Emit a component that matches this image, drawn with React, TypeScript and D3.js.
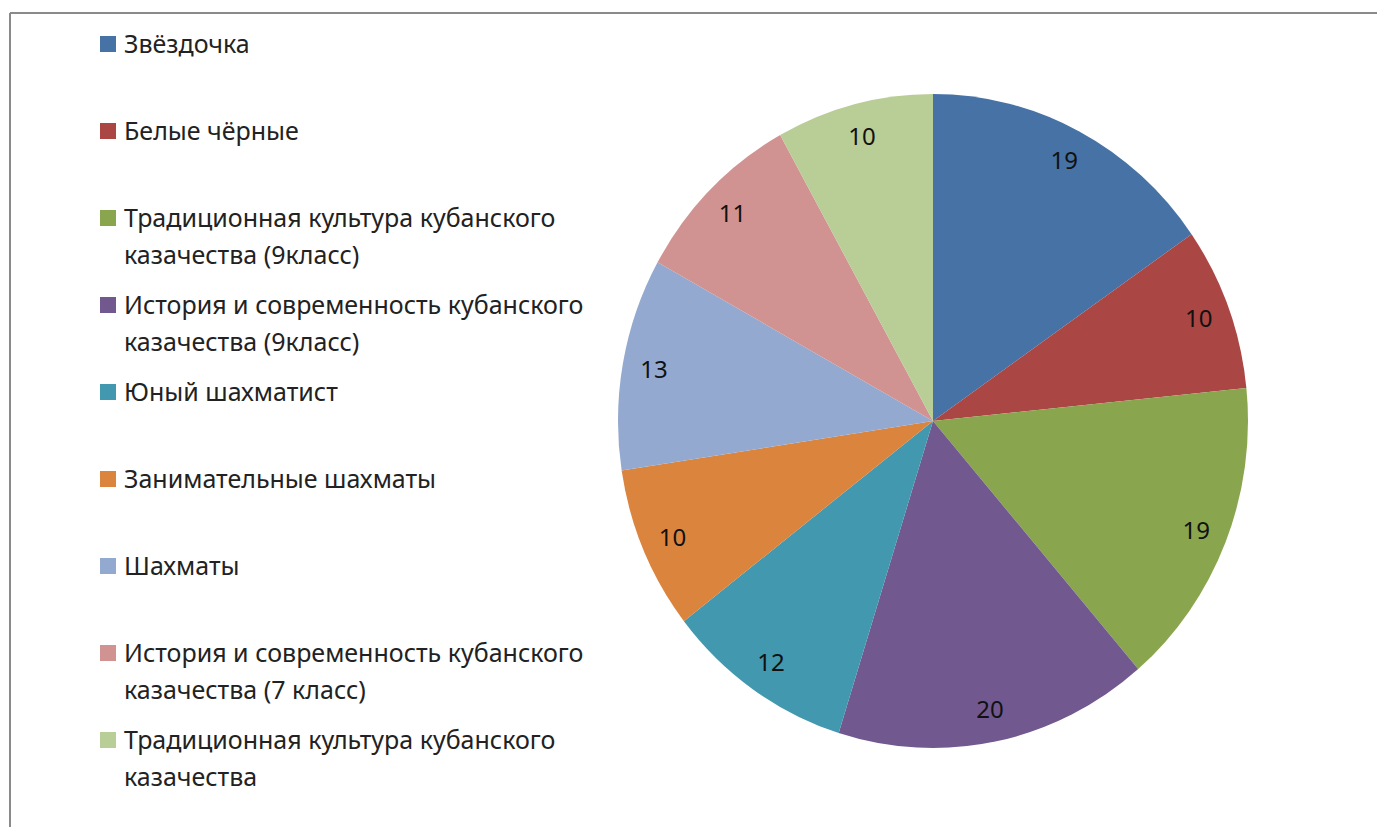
import React, { useEffect, useRef } from 'react';
import * as d3 from 'd3';

// Programmes (legend order = slice order, clockwise from 12 o'clock)
const categories: string[][] = [
  ['Звёздочка'],
  ['Белые чёрные'],
  ['Традиционная культура кубанского', 'казачества (9класс)'],
  ['История и современность кубанского', 'казачества (9класс)'],
  ['Юный шахматист'],
  ['Занимательные шахматы'],
  ['Шахматы'],
  ['История и современность кубанского', 'казачества (7 класс)'],
  ['Традиционная культура кубанского', 'казачества'],
];
const values: number[] = [19, 10, 19, 20, 12, 10, 13, 11, 10];
const colors: string[] = [
  '#4672A6', '#AA4644', '#89A54E', '#71588F', '#4198AF',
  '#DB843D', '#93A9CF', '#D19392', '#B9CD96',
];

const W = 1377;
const H = 827;

const App: React.FC = () => {
  const svgRef = useRef<SVGSVGElement>(null);

  useEffect(() => {
    if (!svgRef.current) return;
    const svg = d3.select(svgRef.current);
    svg.selectAll('*').remove();

    const font = '"Noto Sans", "Open Sans", sans-serif';

    // frame (only top and left edges visible)
    svg.append('line').attr('x1', 10).attr('x2', W).attr('y1', 13).attr('y2', 13)
      .attr('stroke', '#8a8a8a').attr('stroke-width', 2);
    svg.append('line').attr('x1', 10).attr('x2', 10).attr('y1', 13).attr('y2', H)
      .attr('stroke', '#8a8a8a').attr('stroke-width', 2);

    // pie (slightly stretched vertically, as in the source)
    const cx = 933;
    const cy = 421;
    const r = 315;
    const sy = 327 / 315;

    const pie = d3.pie<number>().sort(null).value(d => d);
    const arcs = pie(values);
    const arc = d3.arc<d3.PieArcDatum<number>>().innerRadius(0).outerRadius(r);
    const labelArc = d3.arc<d3.PieArcDatum<number>>().innerRadius(r * 0.9).outerRadius(r * 0.9);

    const g = svg.append('g').attr('transform', `translate(${cx},${cy}) scale(1,${sy})`);
    g.selectAll('path')
      .data(arcs)
      .enter()
      .append('path')
      .attr('d', arc)
      .attr('fill', (_, i) => colors[i]);

    const lg = svg.append('g').attr('transform', `translate(${cx},${cy})`);
    lg.selectAll('text')
      .data(arcs)
      .enter()
      .append('text')
      .attr('x', d => labelArc.centroid(d)[0])
      .attr('y', d => labelArc.centroid(d)[1] * sy)
      .attr('dy', '0.36em')
      .attr('text-anchor', 'middle')
      .attr('font-family', font)
      .attr('font-size', 24)
      .attr('fill', '#111')
      .text(d => d.data);

    // legend
    const legendTop = 44;
    const step = 87;
    const lineH = 37;
    const leg = svg.append('g');
    categories.forEach((lines, i) => {
      const y = legendTop + i * step;
      leg.append('rect')
        .attr('x', 100).attr('y', y - 8).attr('width', 16).attr('height', 16)
        .attr('fill', colors[i]);
      lines.forEach((t, j) => {
        leg.append('text')
          .attr('x', 124)
          .attr('y', y + j * lineH)
          .attr('dy', '0.36em')
          .attr('font-family', font)
          .attr('font-size', 25)
          .attr('fill', '#222')
          .text(t);
      });
    });
  }, []);

  return (
    <svg
      ref={svgRef}
      width={W}
      height={H}
      style={{ position: 'absolute', left: 0, top: 0, background: '#fff' }}
    />
  );
};

export default App;
